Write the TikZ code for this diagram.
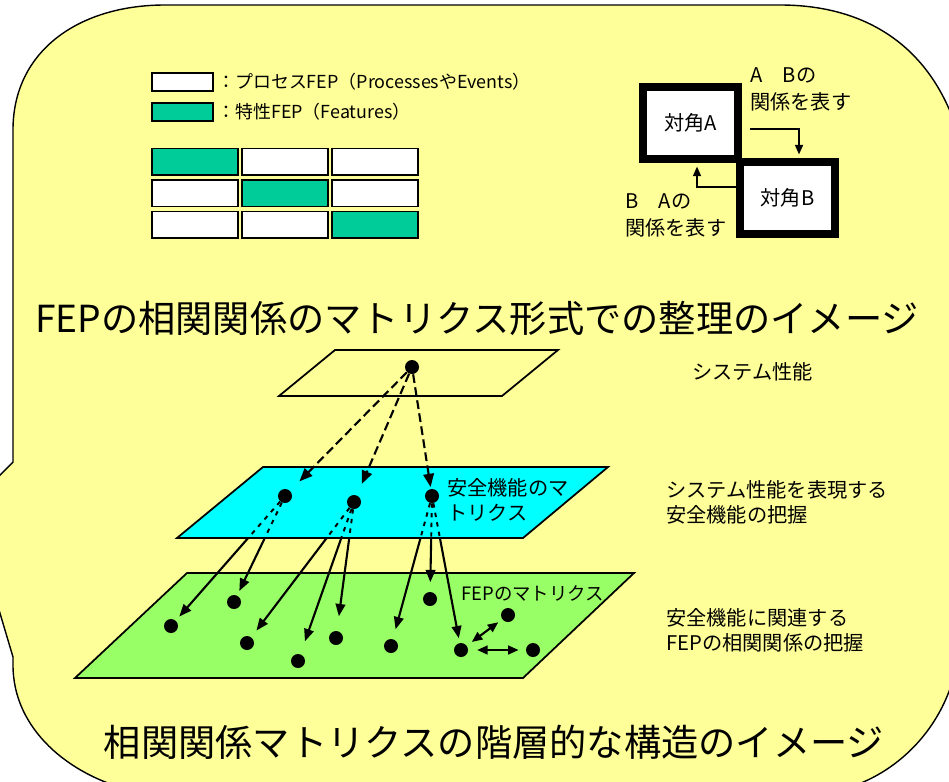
\documentclass[tikz,border=0pt]{standalone}
\usepackage{fontspec}
\setmainfont{Noto Sans CJK JP}
\usetikzlibrary{arrows.meta,calc}

\definecolor{paleyellow}{HTML}{FFFF99}
\definecolor{fepgreen}{HTML}{00CC99}
\definecolor{layercyan}{HTML}{00FFFF}
\definecolor{layergreen}{HTML}{99FF66}

\pgfdeclarelayer{background}
\pgfdeclarelayer{links}
\pgfsetlayers{background,links,main}

\begin{document}
\begin{tikzpicture}[x=0.02cm, y=-0.02cm,
    cell/.style={draw=black, line width=1pt, fill=white},
    plane/.style={draw=black, line width=1pt},
    dot/.style={circle, fill=black, inner sep=0pt, minimum size=0.28cm},
    corner/.style={draw=black, line width=4.3pt, fill=white, minimum width=54pt, minimum height=41pt, inner sep=0pt, font=\fontsize{11.5}{14}\selectfont},
    note/.style={anchor=west, align=left, inner sep=0pt, font=\fontsize{11.5}{15.4}\selectfont},
    caption/.style={anchor=west, align=left, inner sep=0pt, font=\fontsize{11.5}{14.2}\selectfont},
    legend/.style={anchor=west, inner sep=0pt, font=\fontsize{10.2}{12}\selectfont},
    headline/.style={inner sep=0pt, font=\fontsize{21.2}{25}\selectfont},
    relarrow/.style={line width=1.1pt, -{Triangle[length=5.5pt,width=4.5pt]}, shorten >=2.1pt},
    spread/.style={line width=1.2pt, dash pattern=on 5pt off 2.5pt, -{Triangle[length=7.5pt,width=6pt]}},
    link/.style={line width=1.2pt, -{Triangle[length=7pt,width=5.5pt]}},
    pair/.style={line width=1.2pt, {Triangle[length=6pt,width=5pt]}-{Triangle[length=6pt,width=5pt]}},
    insideline/.style={line width=1.1pt, dash pattern=on 2.5pt off 3pt}]

\useasboundingbox (0,0) rectangle (949,781);
\clip (0,0) rectangle (949,781);

\begin{pgfonlayer}{background}
% frame
\draw[fill=paleyellow, line width=0.8pt] (13,462) -- (13,130)
    .. controls (13,50) and (80,5) .. (165,5) -- (780,5)
    .. controls (870,5) and (935,50) .. (960,140) -- (960,640)
    .. controls (955,720) and (900,775) .. (840,790) -- (130,790)
    .. controls (70,775) and (13,730) .. (13,665) -- (13,657)
    -- (-20,546) -- (-20,495) -- cycle;
% system plane and FEP plane
\draw[plane] (335,350) -- (558,350) -- (502,396) -- (279,396) -- cycle;
\draw[plane, fill=layergreen] (187,573) -- (634,573) -- (523,678) -- (75,678) -- cycle;
\end{pgfonlayer}

% legend
\draw[cell] (152,73) rectangle (213,91);
\draw[cell, fill=fepgreen] (152,103) rectangle (213,121);
\node[legend] (procKey) at (217,82) {：プロセスFEP（ProcessesやEvents）};
\node[legend] (featKey) at (217,112) {：特性FEP（Features）};

% 3x3 matrix, features on the diagonal
\foreach \r in {0,1,2}
  \foreach \c in {0,1,2}
    \draw[cell] ({152+90*\c},{148.5+31.5*\r}) rectangle ++(86,26.5);
\foreach \i in {0,1,2}
  \draw[cell, fill=fepgreen] ({152+90*\i},{148.5+31.5*\i}) rectangle ++(86,26.5);

% two diagonal elements
\node[corner] (diagA) at (690.5,123) {対角A};
\node[corner] (diagB) at (787.5,198) {対角B};
\draw[relarrow] ($(diagA.east)+(8,6)$) -| ($(diagB.north)+(11.5,0)$);
\draw[relarrow] ($(diagB.west)+(0,-11)$) -| ($(diagA.south)+(6.5,0)$);
\node[note] (abNote) at (750,89) {A　Bの\\関係を表す};
\node[note] (baNote) at (625,215) {B　Aの\\関係を表す};

\node[headline] (matTitle) at (477,318) {FEPの相関関係のマトリクス形式での整理のイメージ};

% safety function plane
\coordinate (cyNW) at (263,467);
\coordinate (cyNE) at (608,467);
\coordinate (cySE) at (523,538);
\coordinate (cySW) at (177,538);
\draw[plane, fill=layercyan] (cyNW) -- (cyNE) -- (cySE) -- (cySW) -- cycle;

\node[dot] (sys) at (412,367) {};
\node[dot] (s1) at (285,496) {};
\node[dot] (s2) at (354,502) {};
\node[dot] (s3) at (432,496) {};
\foreach \n/\p in {f1/{171,626}, f2/{234,602}, f3/{247,643}, f4/{298,661}, f5/{336,638},
                   f6/{391,646}, f7/{430,599}, f8/{461,650}, f9/{508,615}, f10/{533,650}}
  \node[dot] (\n) at (\p) {};

\draw[spread, shorten >=7.5pt] (sys) -- (s1);
\draw[spread, shorten >=7pt] (sys) -- (s2);
\draw[spread, shorten >=1pt] (sys) -- (s3);

\begin{pgfonlayer}{links}
\foreach \a/\b/\g in {s1/f1/3pt, s1/f2/2.8pt, s2/f3/4.7pt, s2/f4/7.7pt, s2/f5/8.3pt,
                      s3/f6/5.7pt, s3/f7/5.4pt, s3/f8/2.6pt}
  \draw[link, shorten >=\g] (\a) -- (\b);
\end{pgfonlayer}

% links seen through the safety plane
\begin{scope}
\clip (cyNW) -- (cyNE) -- (cySE) -- (cySW) -- cycle;
\foreach \a/\b in {s1/f1, s1/f2, s2/f3, s2/f4, s2/f5, s3/f6, s3/f7, s3/f8}
  \draw[insideline] (\a) -- (\b);
\end{scope}

\draw[pair, shorten <=3.5pt, shorten >=2.7pt] (f8) -- (f9);
\draw[pair, shorten <=5pt, shorten >=4pt] (f8) -- (f10);

\node[caption] (safeLbl) at (447,499.5) {安全機能のマ\\トリクス};
\node[caption, font=\fontsize{10.5}{13}\selectfont] (fepLbl) at (461,593) {FEPのマトリクス};

\node[caption] (perfLbl) at (692,372) {システム性能};
\node[caption] (safeNote) at (666,502.5) {システム性能を表現する\\安全機能の把握};
\node[caption] (fepNote) at (666,630.5) {安全機能に関連する\\FEPの相関関係の把握};

\node[headline] (layTitle) at (494,742) {相関関係マトリクスの階層的な構造のイメージ};

\end{tikzpicture}
\end{document}
